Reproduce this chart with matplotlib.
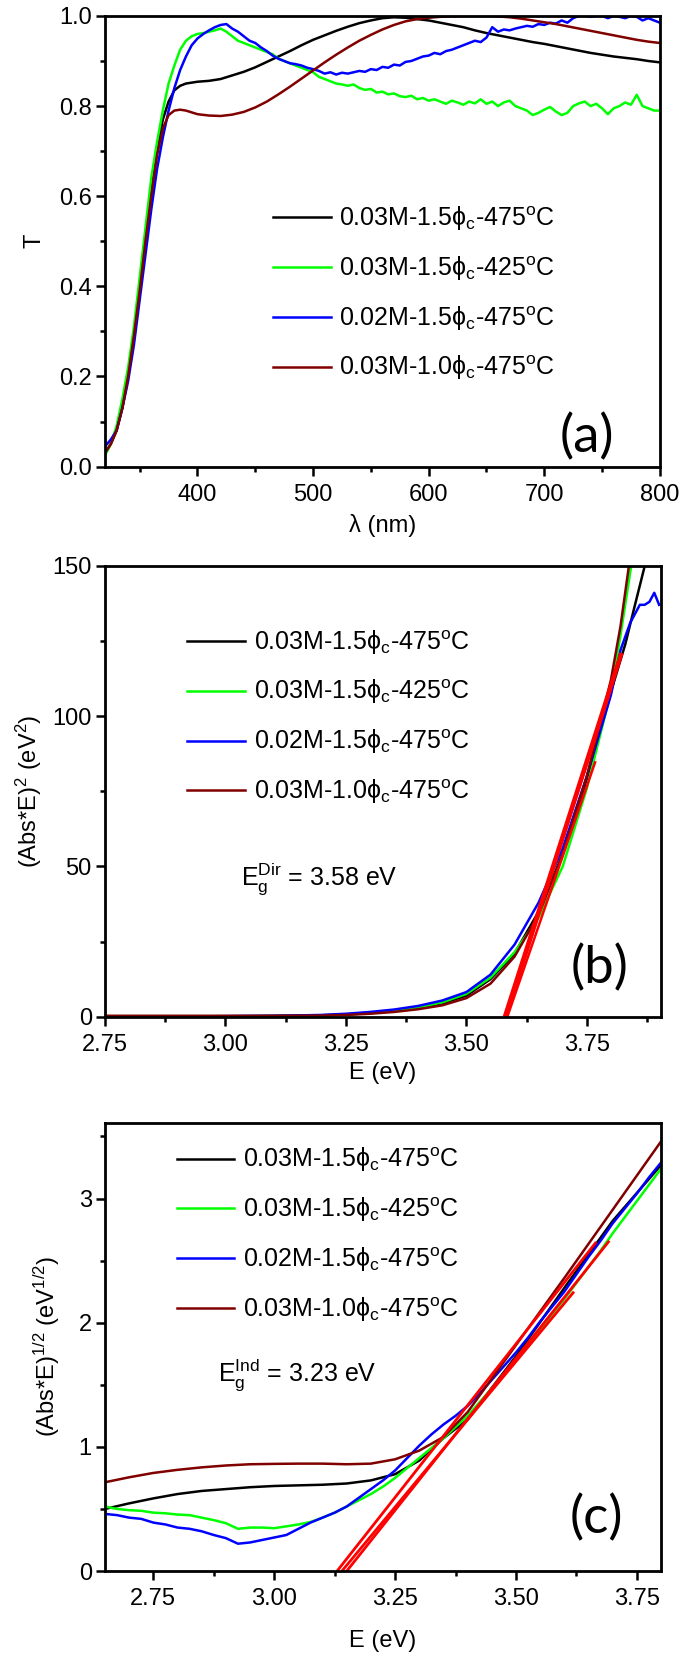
import numpy as np
import matplotlib
matplotlib.use('Agg')
import matplotlib.pyplot as plt
from matplotlib.ticker import MultipleLocator, FormatStrFormatter

plt.rcParams['font.family'] = ['Liberation Sans', 'DejaVu Sans']
plt.rcParams['mathtext.default'] = 'regular'

# ---------------- data ----------------
labels = [r'0.03M-1.5ϕ$_{c}$-475$^{o}$C',
          r'0.03M-1.5ϕ$_{c}$-425$^{o}$C',
          r'0.02M-1.5ϕ$_{c}$-475$^{o}$C',
          r'0.03M-1.0ϕ$_{c}$-475$^{o}$C']
colors = ['#000000', '#00ff00', '#0000ff', '#800000']

# (a) transmittance
lam_smooth = [320, 325, 330, 335, 340, 345, 350, 355, 360, 365, 370, 375, 380, 385, 390, 395, 400,
              410, 420, 430, 440, 450, 460, 470, 480, 490, 500, 510, 520, 530, 540, 550, 560, 570,
              580, 590, 600, 610, 620, 630, 640, 650, 660, 670, 680, 690, 700, 710, 720, 730, 740,
              750, 760, 770, 780, 790, 800]
T_black = [0.03, 0.05, 0.08, 0.13, 0.20, 0.29, 0.39, 0.50, 0.61, 0.70, 0.77, 0.81, 0.835, 0.845, 0.85,
           0.852, 0.854, 0.856, 0.86, 0.868, 0.876, 0.886, 0.898, 0.91, 0.922, 0.935, 0.947, 0.957,
           0.967, 0.976, 0.984, 0.99, 0.995, 0.997, 0.996, 0.993, 0.99, 0.985, 0.98, 0.975, 0.968,
           0.962, 0.957, 0.952, 0.947, 0.942, 0.938, 0.933, 0.928, 0.923, 0.918, 0.914, 0.91, 0.907,
           0.904, 0.90, 0.897]
T_brown = [0.03, 0.05, 0.08, 0.13, 0.20, 0.29, 0.39, 0.50, 0.60, 0.69, 0.75, 0.78, 0.79, 0.792, 0.79,
           0.786, 0.782, 0.779, 0.778, 0.781, 0.787, 0.797, 0.81, 0.826, 0.843, 0.861, 0.879, 0.897,
           0.914, 0.93, 0.945, 0.958, 0.97, 0.98, 0.988, 0.993, 0.996, 0.998, 0.999, 1.0, 1.0,
           1.0, 0.999, 0.997, 0.994, 0.99, 0.986, 0.982, 0.977, 0.972, 0.967, 0.962, 0.957, 0.952,
           0.947, 0.943, 0.94]
lam_noisy = list(range(320, 801, 5))
T_green = [0.025, 0.05, 0.09, 0.15, 0.22, 0.31, 0.42, 0.53, 0.64, 0.72, 0.79, 0.85, 0.89, 0.925, 0.945,
           0.955, 0.96, 0.962, 0.965, 0.968, 0.972, 0.965, 0.955, 0.945, 0.94, 0.935, 0.93, 0.925,
           0.92, 0.915, 0.905, 0.90, 0.895, 0.89, 0.885, 0.88, 0.875, 0.865, 0.86, 0.855, 0.85,
           0.848, 0.845, 0.848, 0.84, 0.836, 0.838, 0.83, 0.832, 0.826, 0.828, 0.822, 0.82, 0.823,
           0.815, 0.818, 0.812, 0.815, 0.81, 0.805, 0.812, 0.808, 0.803, 0.81, 0.806, 0.815, 0.805,
           0.81, 0.80, 0.808, 0.812, 0.80, 0.795, 0.79, 0.78, 0.785, 0.792, 0.798, 0.788, 0.78,
           0.785, 0.80, 0.806, 0.81, 0.80, 0.805, 0.795, 0.782, 0.795, 0.80, 0.808, 0.803, 0.825,
           0.80, 0.795, 0.79, 0.79]
T_blue = [0.045, 0.06, 0.08, 0.13, 0.19, 0.27, 0.37, 0.47, 0.57, 0.66, 0.73, 0.79, 0.84, 0.88, 0.91,
          0.935, 0.95, 0.96, 0.968, 0.975, 0.98, 0.982, 0.972, 0.965, 0.955, 0.945, 0.94, 0.93,
          0.922, 0.912, 0.905, 0.90, 0.895, 0.893, 0.89, 0.885, 0.882, 0.878, 0.872, 0.875, 0.87,
          0.874, 0.872, 0.875, 0.878, 0.876, 0.882, 0.88, 0.887, 0.885, 0.892, 0.89, 0.898, 0.90,
          0.905, 0.91, 0.912, 0.918, 0.915, 0.922, 0.925, 0.93, 0.935, 0.94, 0.945, 0.942, 0.952,
          0.975, 0.965, 0.97, 0.968, 0.972, 0.975, 0.978, 0.976, 0.982, 0.98, 0.985, 0.983, 0.99,
          0.985, 0.995, 1.0, 1.0, 0.998, 1.0, 1.0, 0.995, 1.0, 0.998, 0.995, 1.0, 0.998, 0.99,
          0.995, 0.99, 0.985]

# (b) direct gap, (Abs*E)^2
E_b = [2.75, 2.9, 3.0, 3.1, 3.2, 3.25, 3.3, 3.35, 3.4, 3.45, 3.5, 3.55, 3.6, 3.65, 3.7, 3.75, 3.8]
E_b_black = E_b + [3.83, 3.85, 3.875]
E_b_green = E_b + [3.82, 3.845]
E_b_blue = E_b + [3.82, 3.84, 3.86, 3.87, 3.88, 3.89, 3.9]
E_b_brown = E_b + [3.82, 3.84]
D_black = [0.2, 0.2, 0.2, 0.3, 0.5, 0.8, 1.2, 1.9, 2.9, 4.5, 7.0, 12.5, 21, 35, 54, 79, 108,
           124, 137, 153]
D_green = [0.1, 0.1, 0.1, 0.2, 0.4, 0.7, 1.2, 2.0, 3.1, 4.8, 7.6, 13, 21.5, 33, 50, 76, 108,
           127, 153]
D_blue = [0.1, 0.1, 0.2, 0.3, 0.6, 1.0, 1.6, 2.4, 3.6, 5.4, 8.2, 14, 24, 38, 56, 80, 107,
          122, 131, 137, 137, 138, 141, 137]
D_brown = [0.3, 0.3, 0.3, 0.3, 0.4, 0.6, 1.0, 1.6, 2.5, 3.8, 6.2, 11, 20, 34, 54, 80, 112,
           130, 153]
# linear fits: (E start, E end, y start, y end)
fits_b = [(3.580, 3.822, 0, 121), (3.585, 3.768, 0, 85), (3.583, 3.800, 0, 109)]

# (c) indirect gap, (Abs*E)^1/2
E_c = [2.65, 2.7, 2.75, 2.8, 2.85, 2.9, 2.95, 3.0, 3.05, 3.1, 3.15, 3.2, 3.25, 3.3, 3.35, 3.4,
       3.5, 3.6, 3.7, 3.8]
I_black = [0.5, 0.545, 0.585, 0.62, 0.645, 0.66, 0.675, 0.685, 0.69, 0.695, 0.705, 0.73, 0.78,
           0.89, 1.07, 1.22, 1.73, 2.28, 2.82, 3.27]
I_brown = [0.715, 0.755, 0.79, 0.815, 0.835, 0.85, 0.86, 0.863, 0.865, 0.865, 0.86, 0.865, 0.9,
           0.97, 1.08, 1.28, 1.82, 2.36, 2.91, 3.46]
E_c_fine = [round(2.65 + 0.025 * i, 3) for i in range(47)]
I_green = [0.52, 0.50, 0.49, 0.485, 0.47, 0.465, 0.455, 0.45, 0.43, 0.41, 0.385, 0.34, 0.35, 0.35,
           0.345, 0.36, 0.375, 0.395, 0.43, 0.47, 0.52, 0.57, 0.62, 0.68, 0.75, 0.83, 0.91, 0.99,
           1.07, 1.16, 1.25, 1.36, 1.47, 1.59, 1.70, 1.82, 1.94, 2.07, 2.19, 2.32, 2.45, 2.58,
           2.72, 2.85, 2.98, 3.11, 3.24]
I_blue = [0.46, 0.45, 0.43, 0.42, 0.39, 0.375, 0.35, 0.34, 0.32, 0.29, 0.265, 0.22, 0.23, 0.25,
          0.27, 0.29, 0.34, 0.39, 0.43, 0.47, 0.52, 0.59, 0.66, 0.73, 0.81, 0.91, 1.01, 1.10,
          1.18, 1.25, 1.33, 1.43, 1.54, 1.65, 1.76, 1.88, 2.01, 2.13, 2.25, 2.39, 2.53, 2.66,
          2.80, 2.92, 3.04, 3.17, 3.29]
fits_c = [(3.13, 3.666, 0, 2.65), (3.15, 3.693, 0, 2.66), (3.14, 3.62, 0, 2.25)]

FS = 17
LFS = 18


def style_axis(ax, xlim, ylim, xmaj, xmin, ymaj, ymin, xfmt, yfmt):
  ax.set_xlim(xlim)
  ax.set_ylim(ylim)
  ax.xaxis.set_major_locator(MultipleLocator(xmaj))
  ax.xaxis.set_minor_locator(MultipleLocator(xmin))
  ax.yaxis.set_major_locator(MultipleLocator(ymaj))
  ax.yaxis.set_minor_locator(MultipleLocator(ymin))
  ax.xaxis.set_major_formatter(FormatStrFormatter(xfmt))
  ax.yaxis.set_major_formatter(FormatStrFormatter(yfmt))
  ax.tick_params(which='major', direction='out', length=6.5, width=1.8, labelsize=FS)
  ax.tick_params(which='minor', direction='out', length=3.8, width=1.8)
  ax.tick_params(axis='x', which='major', pad=6)
  ax.tick_params(axis='y', which='major', pad=3)
  for s in ax.spines.values():
    s.set_linewidth(2.0)


def add_legend(ax, x, y):
  ax.legend(loc='upper left', bbox_to_anchor=(x, y), frameon=False, fontsize=LFS,
            handlelength=2.3, handletextpad=0.35, labelspacing=0.85,
            borderaxespad=0, borderpad=0)


fig = plt.figure(figsize=(6.85, 16.6), dpi=100)
ax_a = fig.add_axes([0.1533, 0.7189, 0.8100, 0.2715])
ax_b = fig.add_axes([0.1533, 0.3875, 0.8117, 0.2717])
ax_c = fig.add_axes([0.1533, 0.0536, 0.8117, 0.2700])

# panel (a)
ax_a.plot(lam_smooth, T_black, color=colors[0], lw=1.8, label=labels[0])
ax_a.plot(lam_noisy, T_green, color=colors[1], lw=1.8, label=labels[1])
ax_a.plot(lam_noisy, T_blue, color=colors[2], lw=1.8, label=labels[2])
ax_a.plot(lam_smooth, T_brown, color=colors[3], lw=1.8, label=labels[3])
style_axis(ax_a, (320, 800), (0, 1.0), 100, 50, 0.2, 0.1, '%d', '%.1f')
ax_a.set_xlabel('λ (nm)', fontsize=FS, labelpad=6)
ax_a.set_ylabel('T', fontsize=FS, labelpad=10)
add_legend(ax_a, 0.303, 0.582)
ax_a.text(0.869, 0.065, '(a)', transform=ax_a.transAxes, fontsize=38, family='Lato',
          ha='center', va='center')

# panel (b)
ax_b.plot(E_b_black, D_black, color=colors[0], lw=1.8, label=labels[0])
ax_b.plot(E_b_green, D_green, color=colors[1], lw=1.8, label=labels[1])
ax_b.plot(E_b_blue, D_blue, color=colors[2], lw=1.8, label=labels[2])
ax_b.plot(E_b_brown, D_brown, color=colors[3], lw=1.8, label=labels[3])
for i, (e0, e1, y0, y1) in enumerate(fits_b):
  ax_b.plot([e0, e1], [y0, y1], color='#ff0000', lw=3.2 if i == 0 else 1.8,
            solid_capstyle='butt')
style_axis(ax_b, (2.75, 3.904), (0, 150), 0.25, 0.125, 50, 25, '%.2f', '%d')
ax_b.set_xlabel('E (eV)', fontsize=FS, labelpad=4)
ax_b.set_ylabel(r'(Abs*E)$^{2}$ (eV$^{2}$)', fontsize=FS, labelpad=6)
add_legend(ax_b, 0.148, 0.862)
ax_b.text(0.245, 0.305, r'E$_{g}^{Dir}$ = 3.58 eV', transform=ax_b.transAxes, fontsize=LFS,
          ha='left', va='center')
ax_b.text(0.89, 0.107, '(b)', transform=ax_b.transAxes, fontsize=38, family='Lato',
          ha='center', va='center')

# panel (c)
ax_c.plot(E_c, I_black, color=colors[0], lw=1.8, label=labels[0])
ax_c.plot(E_c_fine, I_green, color=colors[1], lw=1.8, label=labels[1])
ax_c.plot(E_c_fine, I_blue, color=colors[2], lw=1.8, label=labels[2])
ax_c.plot(E_c, I_brown, color=colors[3], lw=1.8, label=labels[3])
for e0, e1, y0, y1 in fits_c:
  ax_c.plot([e0, e1], [y0, y1], color='#ff0000', lw=2.0, solid_capstyle='butt')
style_axis(ax_c, (2.65, 3.8), (0, 3.61), 0.25, 0.125, 1, 0.5, '%.2f', '%d')
ax_c.set_xlabel('E (eV)', fontsize=FS, labelpad=14)
ax_c.set_ylabel(r'(Abs*E)$^{1/2}$ (eV$^{1/2}$)', fontsize=FS, labelpad=12)
add_legend(ax_c, 0.129, 0.949)
ax_c.text(0.203, 0.4375, r'E$_{g}^{Ind}$ = 3.23 eV', transform=ax_c.transAxes, fontsize=LFS,
          ha='left', va='center')
ax_c.text(0.883, 0.118, '(c)', transform=ax_c.transAxes, fontsize=38, family='Lato',
          ha='center', va='center')

fig.savefig('out.png', dpi=100)
